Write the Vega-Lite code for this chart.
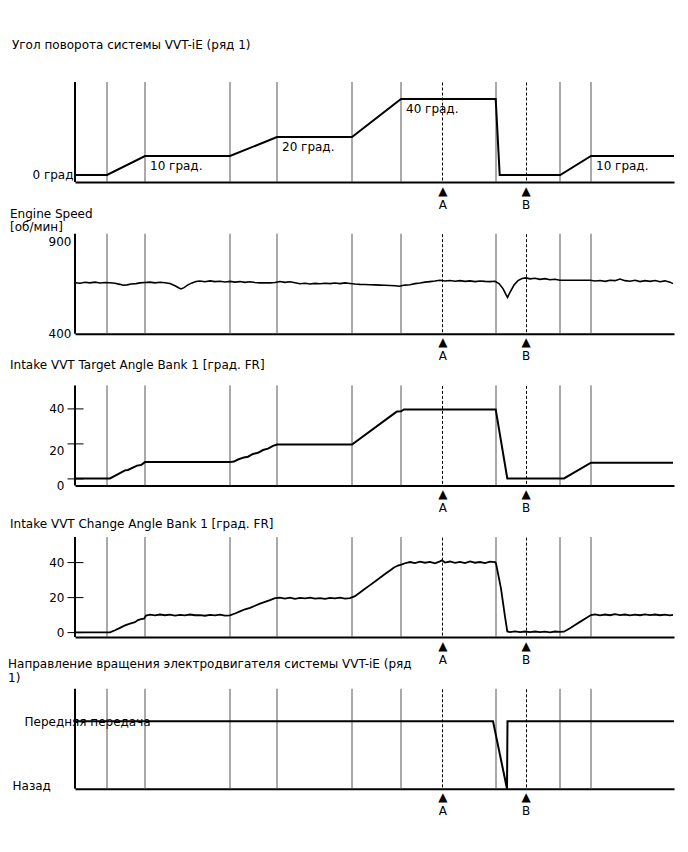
{
  "$schema": "https://vega.github.io/schema/vega-lite/v6.json",
  "padding": {"left": 8, "top": 39, "right": 10, "bottom": 10},
  "background": "white",
  "spacing": 51.7,
  "bounds": "flush",
  "config": {
    "font": "DejaVu Sans",
    "view": {"stroke": null},
    "axis": {"labelFont": "DejaVu Sans", "labelFontSize": 12, "labelColor": "black", "grid": false, "title": null, "labelOverlap": false},
    "title": {"font": "DejaVu Sans", "fontSize": 12, "fontWeight": "normal", "color": "black", "lineHeight": 14, "anchor": "start"},
    "text": {"font": "DejaVu Sans", "fontSize": 12, "color": "black"}
  },
  "datasets": {
    "grid": [{"t": 3.2}, {"t": 7.0}, {"t": 15.5}, {"t": 20.2}, {"t": 27.7}, {"t": 32.6}, {"t": 42.1}, {"t": 48.5}, {"t": 51.6}],
    "angle": [
      {"t": 0, "v": 0}, {"t": 3.2, "v": 0}, {"t": 7.0, "v": 10}, {"t": 15.5, "v": 10}, {"t": 20.2, "v": 20}, {"t": 27.7, "v": 20},
      {"t": 32.6, "v": 40}, {"t": 42.07, "v": 40}, {"t": 42.47, "v": 0}, {"t": 48.52, "v": 0}, {"t": 51.6, "v": 10}, {"t": 59.9, "v": 10}
    ],
    "angleLabels": [
      {"t": 7.0, "v": 10, "label": "10 град."}, {"t": 20.2, "v": 20, "label": "20 град."},
      {"t": 32.6, "v": 40, "label": "40 град."}, {"t": 51.6, "v": 10, "label": "10 град."}
    ],
    "rpm": [
      {"t": 0.0, "v": 677}, {"t": 0.5, "v": 674}, {"t": 1.0, "v": 679}, {"t": 1.5, "v": 676}, {"t": 2.0, "v": 680}, {"t": 2.5, "v": 675},
      {"t": 3.0, "v": 678}, {"t": 3.5, "v": 677}, {"t": 4.0, "v": 674}, {"t": 4.5, "v": 668}, {"t": 4.8, "v": 663}, {"t": 5.2, "v": 665},
      {"t": 5.6, "v": 670}, {"t": 6.1, "v": 672}, {"t": 6.5, "v": 676}, {"t": 7.0, "v": 678}, {"t": 7.5, "v": 680}, {"t": 8.0, "v": 676},
      {"t": 8.5, "v": 679}, {"t": 9.0, "v": 677}, {"t": 9.5, "v": 673}, {"t": 10.0, "v": 660}, {"t": 10.4, "v": 648}, {"t": 10.6, "v": 643},
      {"t": 10.9, "v": 650}, {"t": 11.3, "v": 665}, {"t": 11.7, "v": 676}, {"t": 12.1, "v": 683}, {"t": 12.5, "v": 686}, {"t": 13.0, "v": 682},
      {"t": 13.5, "v": 687}, {"t": 14.0, "v": 683}, {"t": 14.5, "v": 685}, {"t": 15.0, "v": 681}, {"t": 15.5, "v": 684}, {"t": 16.0, "v": 680},
      {"t": 16.5, "v": 683}, {"t": 17.0, "v": 679}, {"t": 17.5, "v": 682}, {"t": 18.0, "v": 678}, {"t": 18.5, "v": 676}, {"t": 19.0, "v": 676},
      {"t": 19.5, "v": 676}, {"t": 20.0, "v": 678}, {"t": 20.5, "v": 683}, {"t": 21.0, "v": 679}, {"t": 21.5, "v": 682}, {"t": 22.0, "v": 677},
      {"t": 22.5, "v": 671}, {"t": 23.0, "v": 674}, {"t": 23.5, "v": 670}, {"t": 24.0, "v": 673}, {"t": 24.5, "v": 671}, {"t": 25.0, "v": 674},
      {"t": 25.5, "v": 672}, {"t": 26.0, "v": 675}, {"t": 26.5, "v": 672}, {"t": 27.0, "v": 676}, {"t": 27.5, "v": 673}, {"t": 28.0, "v": 670},
      {"t": 28.5, "v": 668}, {"t": 29.0, "v": 667}, {"t": 29.5, "v": 666}, {"t": 30.0, "v": 665}, {"t": 30.5, "v": 664}, {"t": 31.0, "v": 663},
      {"t": 31.5, "v": 662}, {"t": 32.0, "v": 660}, {"t": 32.4, "v": 658}, {"t": 33.0, "v": 664}, {"t": 33.5, "v": 666}, {"t": 34.0, "v": 672},
      {"t": 34.5, "v": 675}, {"t": 35.0, "v": 680}, {"t": 35.5, "v": 683}, {"t": 36.0, "v": 686}, {"t": 36.5, "v": 690}, {"t": 37.0, "v": 686},
      {"t": 37.5, "v": 689}, {"t": 38.0, "v": 685}, {"t": 38.5, "v": 688}, {"t": 39.0, "v": 684}, {"t": 39.5, "v": 687}, {"t": 40.0, "v": 683},
      {"t": 40.5, "v": 686}, {"t": 41.0, "v": 684}, {"t": 41.5, "v": 683}, {"t": 42.0, "v": 685}, {"t": 42.4, "v": 672}, {"t": 42.8, "v": 645},
      {"t": 43.1, "v": 612}, {"t": 43.25, "v": 597}, {"t": 43.5, "v": 625}, {"t": 43.9, "v": 664}, {"t": 44.3, "v": 688}, {"t": 44.7, "v": 700},
      {"t": 45.1, "v": 703}, {"t": 45.5, "v": 698}, {"t": 46.0, "v": 701}, {"t": 46.5, "v": 695}, {"t": 47.0, "v": 699}, {"t": 47.5, "v": 693},
      {"t": 48.0, "v": 696}, {"t": 48.5, "v": 690}, {"t": 49.5, "v": 690}, {"t": 50.5, "v": 690}, {"t": 51.5, "v": 690}, {"t": 52.0, "v": 686},
      {"t": 52.5, "v": 689}, {"t": 53.0, "v": 684}, {"t": 53.5, "v": 690}, {"t": 54.0, "v": 688}, {"t": 54.5, "v": 697}, {"t": 55.0, "v": 688},
      {"t": 55.5, "v": 685}, {"t": 56.0, "v": 690}, {"t": 56.5, "v": 683}, {"t": 57.0, "v": 688}, {"t": 57.5, "v": 684}, {"t": 58.0, "v": 689},
      {"t": 58.5, "v": 682}, {"t": 59.0, "v": 687}, {"t": 59.5, "v": 680}, {"t": 59.8, "v": 672}
    ],
    "target": [
      {"t": 0, "v": 0}, {"t": 3.5, "v": 0}, {"t": 5.0, "v": 4.6}, {"t": 5.3, "v": 4.8}, {"t": 6.2, "v": 7.3}, {"t": 6.6, "v": 7.6},
      {"t": 7.0, "v": 9.3}, {"t": 15.5, "v": 9.3}, {"t": 15.9, "v": 9.6}, {"t": 16.3, "v": 10.8}, {"t": 16.9, "v": 12.0}, {"t": 17.3, "v": 12.4},
      {"t": 17.8, "v": 14.0}, {"t": 18.3, "v": 14.6}, {"t": 18.8, "v": 16.2}, {"t": 19.3, "v": 17.0}, {"t": 19.8, "v": 18.6}, {"t": 20.2, "v": 19.4},
      {"t": 27.7, "v": 19.4}, {"t": 31.9, "v": 37.0}, {"t": 32.2, "v": 38.2}, {"t": 32.6, "v": 38.3}, {"t": 32.9, "v": 39.4}, {"t": 42.07, "v": 39.4},
      {"t": 43.23, "v": 0}, {"t": 48.9, "v": 0}, {"t": 51.6, "v": 9.0}, {"t": 59.8, "v": 9.0}
    ],
    "change": [
      {"t": 0, "v": 0}, {"t": 3.5, "v": 0}, {"t": 4.0, "v": 1.2}, {"t": 4.5, "v": 2.6}, {"t": 5.0, "v": 4.0}, {"t": 5.5, "v": 5.0},
      {"t": 6.0, "v": 5.8}, {"t": 6.3, "v": 7.0}, {"t": 6.6, "v": 7.6}, {"t": 6.9, "v": 7.8}, {"t": 7.1, "v": 9.6}, {"t": 7.5, "v": 10.1},
      {"t": 8.0, "v": 9.7}, {"t": 8.5, "v": 10.2}, {"t": 9.0, "v": 9.8}, {"t": 9.5, "v": 10.1}, {"t": 10.0, "v": 9.6}, {"t": 10.5, "v": 10.0},
      {"t": 11.0, "v": 9.7}, {"t": 11.5, "v": 10.2}, {"t": 12.0, "v": 9.8}, {"t": 12.5, "v": 9.9}, {"t": 13.0, "v": 9.5}, {"t": 13.5, "v": 10.0},
      {"t": 14.0, "v": 9.7}, {"t": 14.5, "v": 10.1}, {"t": 15.0, "v": 9.6}, {"t": 15.5, "v": 9.7}, {"t": 16.0, "v": 10.8}, {"t": 16.5, "v": 12.0},
      {"t": 17.0, "v": 13.2}, {"t": 17.5, "v": 14.0}, {"t": 18.0, "v": 15.2}, {"t": 18.5, "v": 16.4}, {"t": 19.0, "v": 17.4}, {"t": 19.5, "v": 18.4},
      {"t": 20.0, "v": 19.6}, {"t": 20.5, "v": 19.9}, {"t": 21.0, "v": 19.3}, {"t": 21.5, "v": 19.8}, {"t": 22.0, "v": 19.2}, {"t": 22.5, "v": 19.7},
      {"t": 23.0, "v": 19.4}, {"t": 23.5, "v": 19.9}, {"t": 24.0, "v": 19.3}, {"t": 24.5, "v": 19.6}, {"t": 25.0, "v": 19.2}, {"t": 25.5, "v": 19.7},
      {"t": 26.0, "v": 19.4}, {"t": 26.5, "v": 19.8}, {"t": 27.0, "v": 19.3}, {"t": 27.5, "v": 19.6}, {"t": 28.0, "v": 20.7}, {"t": 28.5, "v": 22.8},
      {"t": 29.0, "v": 24.9}, {"t": 29.5, "v": 27.0}, {"t": 30.0, "v": 29.1}, {"t": 30.5, "v": 31.2}, {"t": 31.0, "v": 33.3}, {"t": 31.5, "v": 35.4},
      {"t": 31.9, "v": 37.1}, {"t": 32.3, "v": 38.2}, {"t": 32.7, "v": 38.9}, {"t": 33.0, "v": 39.5}, {"t": 33.5, "v": 40.2}, {"t": 34.0, "v": 39.6},
      {"t": 34.5, "v": 40.4}, {"t": 35.0, "v": 39.8}, {"t": 35.5, "v": 40.3}, {"t": 36.0, "v": 39.5}, {"t": 36.5, "v": 40.6}, {"t": 36.7, "v": 41.2},
      {"t": 37.0, "v": 39.9}, {"t": 37.5, "v": 40.5}, {"t": 38.0, "v": 39.7}, {"t": 38.5, "v": 40.3}, {"t": 39.0, "v": 39.6}, {"t": 39.5, "v": 40.5},
      {"t": 40.0, "v": 39.8}, {"t": 40.5, "v": 40.2}, {"t": 41.0, "v": 39.6}, {"t": 41.5, "v": 40.4}, {"t": 42.0, "v": 40.1}, {"t": 42.1, "v": 39.4},
      {"t": 42.6, "v": 25.0}, {"t": 43.0, "v": 9.0}, {"t": 43.23, "v": 0.5}, {"t": 43.5, "v": 0.2}, {"t": 44.0, "v": 0.6}, {"t": 44.5, "v": 0.2},
      {"t": 45.0, "v": 0.5}, {"t": 45.5, "v": 0.1}, {"t": 46.0, "v": 0.5}, {"t": 46.5, "v": 0.2}, {"t": 47.0, "v": 0.4}, {"t": 47.5, "v": 0.0},
      {"t": 48.0, "v": 0.5}, {"t": 48.5, "v": 0.3}, {"t": 48.9, "v": 0.4}, {"t": 49.5, "v": 2.4}, {"t": 50.0, "v": 4.2}, {"t": 50.5, "v": 6.0},
      {"t": 51.0, "v": 7.8}, {"t": 51.6, "v": 9.9}, {"t": 52.0, "v": 10.3}, {"t": 52.5, "v": 9.7}, {"t": 53.0, "v": 10.2}, {"t": 53.5, "v": 9.8},
      {"t": 54.0, "v": 10.4}, {"t": 54.5, "v": 9.9}, {"t": 55.0, "v": 10.2}, {"t": 55.5, "v": 9.7}, {"t": 56.0, "v": 10.1}, {"t": 56.5, "v": 9.8},
      {"t": 57.0, "v": 10.3}, {"t": 57.5, "v": 9.9}, {"t": 58.0, "v": 10.2}, {"t": 58.5, "v": 9.8}, {"t": 59.0, "v": 10.1}, {"t": 59.5, "v": 9.7},
      {"t": 59.8, "v": 10.0}
    ],
    "direction": [
      {"t": 0, "v": 1}, {"t": 41.8, "v": 1}, {"t": 43.2, "v": 0}, {"t": 43.25, "v": 1}, {"t": 59.9, "v": 1}
    ]
  },
  "vconcat": [
    {
      "width": 599, "height": 100,
      "title": {"text": "Угол поворота системы VVT-iE (ряд 1)", "anchor": "start", "frame": "group", "dx": -63, "offset": 29},
      "layer": [
        {"data": {"name": "grid"}, "mark": {"type": "rule", "color": "#555555", "strokeWidth": 1}, "encoding": {"x": {"field": "t", "type": "quantitative", "title": null}}},
        {"data": {"values": [{}]}, "mark": {"type": "rule", "color": "black", "strokeWidth": 2}, "encoding": {"x": {"datum": 0, "type": "quantitative", "title": null}}},
        {"data": {"name": "angle"}, "mark": {"type": "line", "color": "black", "strokeWidth": 2},
          "encoding": {
            "x": {"field": "t", "type": "quantitative", "title": null, "scale": {"domain": [0, 59.9], "nice": false, "zero": false},
              "axis": {"values": [36.73, 45.07], "ticks": false, "grid": true, "gridColor": "black", "gridDash": [3, 2], "gridWidth": 1, "domain": true, "domainColor": "black", "domainWidth": 2, "labelExpr": "datum.value < 40 ? ['▲', 'A'] : ['▲', 'B']", "labelFontSize": 12, "labelLineHeight": 14, "labelPadding": 3, "labelFlush": false, "title": null}},
            "y": {"field": "v", "type": "quantitative", "title": null, "scale": {"domain": [-3.7, 49], "nice": false, "zero": false},
              "axis": {"values": [0], "labelExpr": "'0 град'", "ticks": false, "domain": false, "labelPadding": 2, "title": null}}
          }},
        {"data": {"name": "angleLabels"}, "mark": {"type": "text", "align": "left", "baseline": "middle", "dx": 5, "dy": 10, "fontSize": 12, "color": "black"},
          "encoding": {
            "x": {"field": "t", "type": "quantitative", "title": null},
            "y": {"field": "v", "type": "quantitative", "title": null},
            "text": {"field": "label"}
          }}
      ]
    },
    {
      "width": 599, "height": 100,
      "title": {"text": ["Engine Speed", "[об/мин]"], "anchor": "start", "frame": "group", "dx": -65, "offset": -1, "lineHeight": 13},
      "layer": [
        {"data": {"name": "grid"}, "mark": {"type": "rule", "color": "#555555", "strokeWidth": 1}, "encoding": {"x": {"field": "t", "type": "quantitative", "title": null}}},
        {"data": {"values": [{}]}, "mark": {"type": "rule", "color": "black", "strokeWidth": 2}, "encoding": {"x": {"datum": 0, "type": "quantitative", "title": null}}},
        {"data": {"name": "rpm"}, "mark": {"type": "line", "color": "black", "strokeWidth": 1.6},
          "encoding": {
            "x": {"field": "t", "type": "quantitative", "title": null, "scale": {"domain": [0, 59.9], "nice": false, "zero": false},
              "axis": {"values": [36.73, 45.07], "ticks": false, "grid": true, "gridColor": "black", "gridDash": [3, 2], "gridWidth": 1, "domain": true, "domainColor": "black", "domainWidth": 2, "labelExpr": "datum.value < 40 ? ['▲', 'A'] : ['▲', 'B']", "labelFontSize": 12, "labelLineHeight": 14, "labelPadding": 3, "labelFlush": false, "title": null}},
            "y": {"field": "v", "type": "quantitative", "title": null, "scale": {"domain": [400, 943], "nice": false, "zero": false},
              "axis": {"values": [400, 900], "ticks": false, "domain": false, "labelPadding": 4, "title": null}}
          }}
      ]
    },
    {
      "width": 599, "height": 100,
      "title": {"text": "Intake VVT Target Angle Bank 1 [град. FR]", "anchor": "start", "frame": "group", "dx": -65, "offset": 12},
      "layer": [
        {"data": {"name": "grid"}, "mark": {"type": "rule", "color": "#555555", "strokeWidth": 1}, "encoding": {"x": {"field": "t", "type": "quantitative", "title": null}}},
        {"data": {"values": [{}]}, "mark": {"type": "rule", "color": "black", "strokeWidth": 2}, "encoding": {"x": {"datum": 0, "type": "quantitative", "title": null}}},
        {"data": {"name": "target"}, "mark": {"type": "line", "color": "black", "strokeWidth": 2},
          "encoding": {
            "x": {"field": "t", "type": "quantitative", "title": null, "scale": {"domain": [0, 59.9], "nice": false, "zero": false},
              "axis": {"values": [36.73, 45.07], "ticks": false, "grid": true, "gridColor": "black", "gridDash": [3, 2], "gridWidth": 1, "domain": true, "domainColor": "black", "domainWidth": 2, "labelExpr": "datum.value < 40 ? ['▲', 'A'] : ['▲', 'B']", "labelFontSize": 12, "labelLineHeight": 14, "labelPadding": 3, "labelFlush": false, "title": null}},
            "y": {"field": "v", "type": "quantitative", "title": null, "scale": {"domain": [-4, 53.14], "nice": false, "zero": false},
              "axis": {"values": [0, 20, 40], "offset": -8, "ticks": true, "tickSize": 16, "tickColor": "black", "tickWidth": 1, "domain": false, "labelPadding": 3, "title": null,
                "labelOffset": {"condition": {"test": "datum.value == 40", "value": 0}, "value": 7}}}
          }}
      ]
    },
    {
      "width": 599, "height": 100,
      "title": {"text": "Intake VVT Change Angle Bank 1 [град. FR]", "anchor": "start", "frame": "group", "dx": -65, "offset": 5},
      "layer": [
        {"data": {"name": "grid"}, "mark": {"type": "rule", "color": "#555555", "strokeWidth": 1}, "encoding": {"x": {"field": "t", "type": "quantitative", "title": null}}},
        {"data": {"values": [{}]}, "mark": {"type": "rule", "color": "black", "strokeWidth": 2}, "encoding": {"x": {"datum": 0, "type": "quantitative", "title": null}}},
        {"data": {"name": "change"}, "mark": {"type": "line", "color": "black", "strokeWidth": 1.8},
          "encoding": {
            "x": {"field": "t", "type": "quantitative", "title": null, "scale": {"domain": [0, 59.9], "nice": false, "zero": false},
              "axis": {"values": [36.73, 45.07], "ticks": false, "grid": true, "gridColor": "black", "gridDash": [3, 2], "gridWidth": 1, "domain": true, "domainColor": "black", "domainWidth": 2, "labelExpr": "datum.value < 40 ? ['▲', 'A'] : ['▲', 'B']", "labelFontSize": 12, "labelLineHeight": 14, "labelPadding": 3, "labelFlush": false, "title": null}},
            "y": {"field": "v", "type": "quantitative", "title": null, "scale": {"domain": [-2.7, 54.44], "nice": false, "zero": false},
              "axis": {"values": [0, 20, 40], "offset": -8, "ticks": true, "tickSize": 16, "tickColor": "black", "tickWidth": 1, "domain": false, "labelPadding": 3, "title": null}}
          }}
      ]
    },
    {
      "width": 599, "height": 100,
      "title": {"text": ["Направление вращения электродвигателя системы VVT-iE (ряд", "1)"], "anchor": "start", "frame": "group", "dx": -67, "offset": 3},
      "layer": [
        {"data": {"name": "grid"}, "mark": {"type": "rule", "color": "#555555", "strokeWidth": 1}, "encoding": {"x": {"field": "t", "type": "quantitative", "title": null}}},
        {"data": {"values": [{}]}, "mark": {"type": "rule", "color": "black", "strokeWidth": 2}, "encoding": {"x": {"datum": 0, "type": "quantitative", "title": null}}},
        {"data": {"name": "direction"}, "mark": {"type": "line", "color": "black", "strokeWidth": 2},
          "encoding": {
            "x": {"field": "t", "type": "quantitative", "title": null, "scale": {"domain": [0, 59.9], "nice": false, "zero": false},
              "axis": {"values": [36.73, 45.07], "ticks": false, "grid": true, "gridColor": "black", "gridDash": [3, 2], "gridWidth": 1, "domain": true, "domainColor": "black", "domainWidth": 2, "labelExpr": "datum.value < 40 ? ['▲', 'A'] : ['▲', 'B']", "labelFontSize": 12, "labelLineHeight": 14, "labelPadding": 3, "labelFlush": false, "title": null}},
            "y": {"field": "v", "type": "quantitative", "title": null, "scale": {"domain": [0, 1.478], "nice": false, "zero": false},
              "axis": {"values": [0, 1], "labelExpr": "datum.value == 1 ? 'Передняя передача' : 'Назад'", "ticks": false, "domain": false, "labelAlign": "left", "title": null,
                "labelPadding": {"condition": {"test": "datum.value == 1", "value": 51}, "value": 63},
                "labelOffset": {"condition": {"test": "datum.value == 1", "value": 0}, "value": -3}}}
          }}
      ]
    }
  ]
}
